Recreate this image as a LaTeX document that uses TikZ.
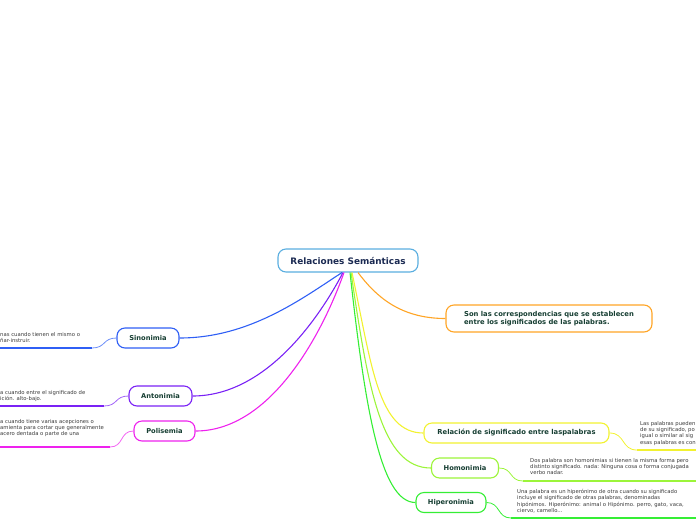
\documentclass[tikz,border=0pt]{standalone}
\usepackage{fontspec}
\setmainfont{DejaVu Sans}
\definecolor{rootc}{HTML}{5AAEE0}
\definecolor{roottext}{HTML}{1B2A52}
\definecolor{labelc}{HTML}{173F33}
\definecolor{leafc}{HTML}{3A3A3A}
\definecolor{cblue}{HTML}{2F5FF5}
\definecolor{cpurple}{HTML}{7A22F5}
\definecolor{cmagenta}{HTML}{EE22EE}
\definecolor{corange}{HTML}{FFA526}
\definecolor{cyellow}{HTML}{F2F230}
\definecolor{cyg}{HTML}{9CF53A}
\definecolor{cgreen}{HTML}{35EE35}
\tikzset{
  topic/.style={draw, rounded corners=8, line width=1.1pt, minimum height=20, inner sep=2, fill=white,
    font=\fontsize{6.7}{8}\selectfont\bfseries, text=labelc},
  link/.style={line width=1.1pt},
  underl/.style={line width=2pt},
  leaf/.style={anchor=north west, inner sep=0, align=left, text=leafc,
    font=\fontsize{5.3}{6.3}\selectfont}
}
\begin{document}
\begin{tikzpicture}[x=1pt,y=-1pt]
\useasboundingbox (0,0) rectangle (696,520);
% main nodes
\node[topic, draw=rootc, text=roottext, minimum width=140, minimum height=23,
  font=\fontsize{8.9}{10}\selectfont\bfseries] (root) at (348,260.5) {Relaciones Semánticas};
\node[topic, draw=corange, minimum width=206, minimum height=27, align=left,
  font=\fontsize{6.8}{8}\selectfont\bfseries] (def) at (549,318.5)
  {Son las correspondencias que se establecen\\entre los significados de las palabras.};
\node[topic, draw=cblue, minimum width=62] (sin) at (148,338) {Sinonimia};
\node[topic, draw=cpurple, minimum width=63] (ant) at (160.5,396) {Antonimia};
\node[topic, draw=cmagenta, minimum width=61] (pol) at (164.5,431) {Polisemia};
\node[topic, draw=cyellow, minimum width=185, font=\fontsize{6.8}{8}\selectfont\bfseries] (rel) at (516.5,433) {Relación de significado entre laspalabras};
\node[topic, draw=cyg, minimum width=67] (hom) at (465,468) {Homonimia};
\node[topic, draw=cgreen, minimum width=70] (hip) at (451,502.5) {Hiperonimia};
% connectors from root
\draw[link, cblue] ([xshift=-6]root.south) .. controls +(-40,26) and +(70,0) .. (sin.east);
\draw[link, cpurple] ([xshift=-5]root.south) .. controls +(-22,42) and +(75,0) .. (ant.east);
\draw[link, cmagenta] ([xshift=-4]root.south) .. controls +(-22,62) and +(75,0) .. (pol.east);
\draw[link, corange] ([xshift=10]root.south) .. controls +(18,24) and +(-45,0) .. (def.west);
\draw[link, cyellow] ([xshift=4]root.south) .. controls +(20,95) and +(-45,0) .. (rel.west);
\draw[link, cyg] ([xshift=3]root.south) .. controls +(17,115) and +(-50,0) .. (hom.west);
\draw[link, cgreen] ([xshift=2]root.south) .. controls +(15,135) and +(-35,0) .. (hip.west);
% leaf coordinates
\coordinate (sinE) at (92,348);   \coordinate (sinL) at (0,348);
\coordinate (antE) at (104,406);  \coordinate (antL) at (0,406);
\coordinate (polE) at (110,447);  \coordinate (polL) at (0,447);
\coordinate (relE) at (637,450);  \coordinate (relR) at (696,450);
\coordinate (homE) at (523,481);  \coordinate (homR) at (696,481);
\coordinate (hipE) at (511,518);  \coordinate (hipR) at (696,518);
% leaf connectors
\draw[cblue!70, line width=0.8pt] (sin.west) .. controls +(-14,0) and +(14,0) .. (sinE);
\draw[underl, cblue] (sinE) -- (sinL);
\draw[cpurple!70, line width=0.8pt] (ant.west) .. controls +(-14,0) and +(14,0) .. (antE);
\draw[underl, cpurple] (antE) -- (antL);
\draw[cmagenta!70, line width=0.8pt] (pol.west) .. controls +(-14,0) and +(14,0) .. (polE);
\draw[underl, cmagenta] (polE) -- (polL);
\draw[cyellow, line width=0.8pt] (rel.east) .. controls +(16,0) and +(-16,0) .. (relE);
\draw[underl, cyellow] (relE) -- (relR);
\draw[cyg, line width=0.8pt] (hom.east) .. controls +(14,0) and +(-14,0) .. (homE);
\draw[underl, cyg] (homE) -- (homR);
\draw[cgreen, line width=0.8pt] (hip.east) .. controls +(14,0) and +(-14,0) .. (hipE);
\draw[underl, cgreen] (hipE) -- (hipR);
% leaf texts
\node[leaf] (sinT) at (0,332) {nas cuando tienen el mismo o\\ñar-instruir.};
\node[leaf] (antT) at (0,390) {a cuando entre el significado de\\ición. alto-bajo.};
\node[leaf] (polT) at (0,419) {a cuando tiene varias acepciones o\\amienta para cortar que generalmente\\acero dentada o parte de una};
\node[leaf] (relT) at (640,421) {Las palabras pueden\\de su significado, po\\igual o similar al sig\\esas palabras es con};
\node[leaf] (homT) at (530,458) {Dos palabra son homonimias si tienen la misma forma pero\\distinto significado. nada: Ninguna cosa o forma conjugada\\verbo nadar.};
\node[leaf] (hipT) at (517,489) {Una palabra es un hiperónimo de otra cuando su significado\\incluye el significado de otras palabras, denominadas\\hipónimos. Hiperónimo: animal o Hipónimo. perro, gato, vaca,\\ciervo, camello...};
\end{tikzpicture}
\end{document}
